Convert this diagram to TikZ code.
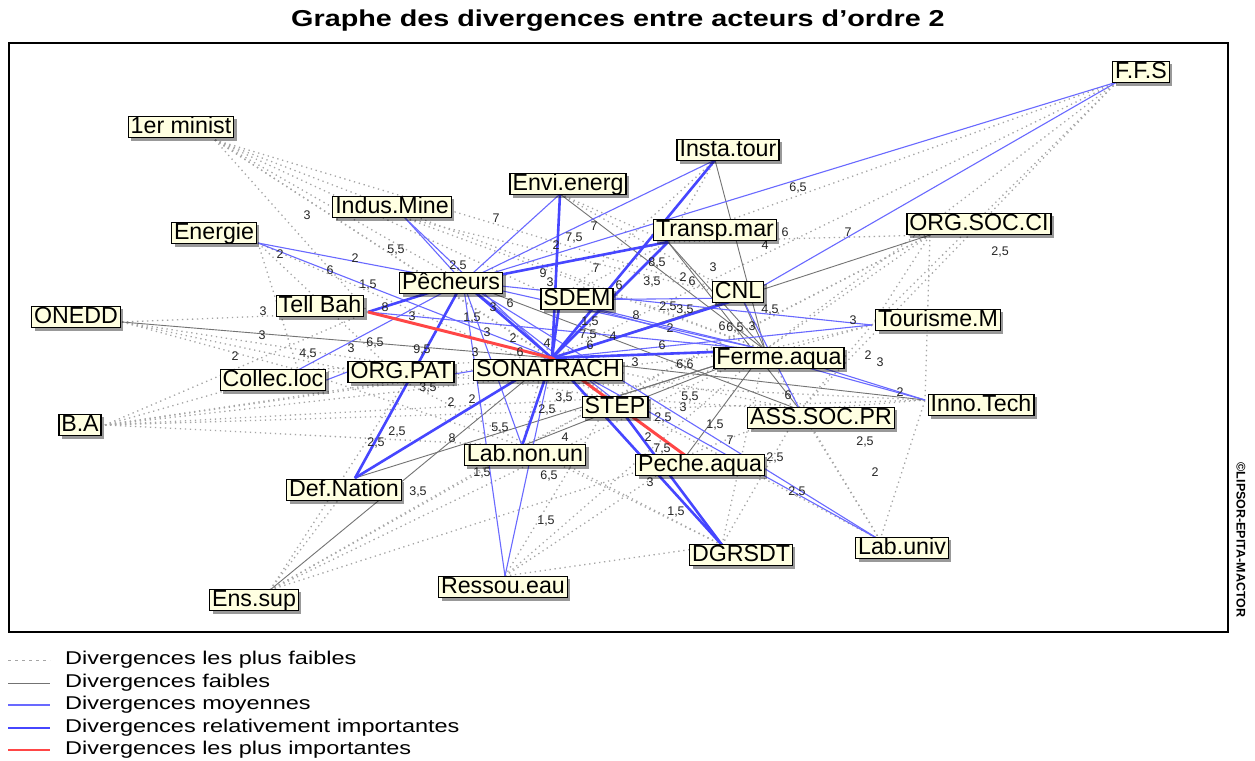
\documentclass[tikz,border=0pt]{standalone}
\usepackage{fontspec}
\setmainfont{Liberation Sans}
\usepackage{graphicx}
\usetikzlibrary{shadows,backgrounds}
\definecolor{nodebg}{RGB}{255,255,225}
\definecolor{midblue}{RGB}{105,105,255}
\definecolor{strongblue}{RGB}{70,70,255}
\definecolor{topred}{RGB}{255,70,70}
\definecolor{dotgray}{RGB}{165,165,165}
\definecolor{weakgray}{RGB}{115,115,115}
\begin{document}
\begin{tikzpicture}[x=1pt,y=-1pt,
  actor/.style={draw=black,line width=1.4pt,fill=nodebg,inner xsep=2.5pt,inner ysep=0.3pt,
    text height=17.2pt,text depth=3.6pt,font=\fontsize{23.2}{25}\selectfont,
    drop shadow={shadow xshift=3pt,shadow yshift=-3pt,fill=black,opacity=0.4}},
  lbl/.style={font=\fontsize{12.5}{13}\selectfont,text=black!85,inner sep=0pt},
  dotl/.style={draw=dotgray,line width=1.3pt,dash pattern=on 1.3pt off 3.7pt},
  weak/.style={draw=weakgray,line width=0.9pt},
  mid/.style={draw=midblue,line width=1.1pt},
  strong/.style={draw=strongblue,line width=2.6pt},
  redline/.style={draw=topred,line width=3pt},
  legtext/.style={anchor=west,inner sep=0pt,font=\fontsize{18.5}{20}\selectfont},
]
\useasboundingbox (0,0) rectangle (1255,760);

% ---------- actors ----------
\node[actor] (ffs)     at (1141,72)  {F.F.S};
\node[actor] (premier) at (181,127)  {1er minist};
\node[actor] (insta)   at (728,150)  {Insta.tour};
\node[actor] (envi)    at (568,184)  {Envi.energ};
\node[actor] (indus)   at (392,207)  {Indus.Mine};
\node[actor] (orgsoc)  at (979,224)  {ORG.SOC.CI};
\node[actor] (energie) at (214,233)  {Energie};
\node[actor] (transp)  at (715,230)  {Transp.mar};
\node[actor] (pech)    at (451,283)  {Pêcheurs};
\node[actor] (sdem)    at (577,299)  {SDEM};
\node[actor] (cnl)     at (738,292)  {CNL};
\node[actor] (tell)    at (320,306)  {Tell Bah};
\node[actor] (onedd)   at (76,317)   {ONEDD};
\node[actor] (tour)    at (938,320)  {Tourisme.M};
\node[actor] (sona)    at (548,370)  {SONATRACH};
\node[actor] (orgpat)  at (401,372)  {ORG.PAT};
\node[actor] (ferme)   at (779,358)  {Ferme.aqua};
\node[actor] (collec)  at (273,380)  {Collec.loc};
\node[actor] (inno)    at (981,405)  {Inno.Tech};
\node[actor] (step)    at (615,407)  {STEP};
\node[actor] (ass)     at (821,418)  {ASS.SOC.PR};
\node[actor] (ba)      at (80,425)   {B.A};
\node[actor] (labnon)  at (525,455)  {Lab.non.un};
\node[actor] (pecheaq) at (700,465)  {Peche.aqua};
\node[actor] (defn)    at (344,490)  {Def.Nation};
\node[actor] (labuniv) at (902,548)  {Lab.univ};
\node[actor] (dgrsdt)  at (741,555)  {DGRSDT};
\node[actor] (ressou)  at (503,587)  {Ressou.eau};
\node[actor] (enssup)  at (254,600)  {Ens.sup};

% ---------- anchor points of the connectors ----------
\coordinate (p-ffs) at (1117,82);
\coordinate (p-premier) at (215,140);
\coordinate (p-insta) at (715,160);
\coordinate (p-envi) at (560,194);
\coordinate (p-indus) at (405,218);
\coordinate (p-orgsoc) at (930,235);
\coordinate (p-energie) at (258,243);
\coordinate (p-transp) at (668,242);
\coordinate (p-pech) at (463,282);
\coordinate (p-sdem) at (560,300);
\coordinate (p-cnl) at (742,298);
\coordinate (p-tell) at (368,312);
\coordinate (p-onedd) at (122,322);
\coordinate (p-tour) at (872,325);
\coordinate (p-sona) at (552,358);
\coordinate (p-orgpat) at (405,382);
\coordinate (p-ferme) at (765,350);
\coordinate (p-collec) at (298,370);
\coordinate (p-inno) at (925,400);
\coordinate (p-step) at (612,398);
\coordinate (p-ass) at (800,410);
\coordinate (p-ba) at (105,425);
\coordinate (p-labnon) at (522,446);
\coordinate (p-pecheaq) at (686,456);
\coordinate (p-defn) at (355,478);
\coordinate (p-labuniv) at (880,540);
\coordinate (p-dgrsdt) at (722,545);
\coordinate (p-ressou) at (505,576);
\coordinate (p-enssup) at (270,590);

\begin{pgfonlayer}{background}
\fill[white] (0,0) rectangle (1255,760);
% weakest
\foreach \a/\b in {premier/tell,premier/pech,premier/sdem,premier/sona,premier/step,premier/ferme,premier/cnl,
  ffs/transp,ffs/ferme,ffs/sona,ffs/ass,ffs/tour,
  orgsoc/ferme,orgsoc/step,orgsoc/transp,orgsoc/labnon,orgsoc/inno,
  ba/tell,ba/collec,ba/orgpat,ba/sona,ba/ferme,ba/step,ba/labnon,ba/inno,
  onedd/tell,onedd/collec,onedd/orgpat,onedd/step,
  energie/orgpat,energie/collec,energie/step,
  indus/ferme,indus/cnl,
  enssup/defn,enssup/orgpat,enssup/labnon,enssup/step,enssup/pecheaq,enssup/ferme,
  ressou/pecheaq,ressou/step,ressou/ferme,ressou/dgrsdt,
  dgrsdt/ferme,dgrsdt/labnon,dgrsdt/step,dgrsdt/ass,dgrsdt/sona,dgrsdt/orgpat,
  labuniv/ass,labuniv/ferme,labuniv/inno,labuniv/step,
  inno/ass,tour/ferme,tour/orgsoc,tour/ass,tour/step,
  ass/pecheaq,ass/step,ass/sona,
  collec/inno,collec/ferme,collec/labnon,
  insta/sdem,insta/transp,envi/transp,envi/cnl,transp/sdem,sdem/labnon}
  \draw[dotl] (p-\a) -- (p-\b);
% weak
\foreach \a/\b in {onedd/sona,insta/ferme,envi/ferme,transp/ferme,orgsoc/sona,defn/ferme,enssup/sona,
  pecheaq/ferme,step/ferme,inno/sona,pech/ass,cnl/ferme,labnon/ferme,transp/ass}
  \draw[weak] (p-\a) -- (p-\b);
% medium
\foreach \a/\b in {ffs/pech,ffs/cnl,insta/pech,envi/pech,indus/pech,indus/sona,energie/pech,energie/sona,
  collec/pech,tour/pech,tour/sona,inno/sdem,ass/cnl,labuniv/sona,labuniv/pech,ressou/pech,ressou/sona,
  labnon/pech,tell/ferme,pech/ferme,pech/step,sdem/cnl,sdem/ferme,orgpat/sona,inno/ferme}
  \draw[mid] (p-\a) -- (p-\b);
\draw[mid] (collec.east) -- (orgpat.west);
% relatively important
\foreach \a/\b in {pech/sona,pech/tell,pech/defn,pech/transp,sdem/sona,envi/sona,insta/sona,transp/sona,
  cnl/sona,ferme/sona,sona/defn,sona/labnon,sona/dgrsdt,step/dgrsdt}
  \draw[strong] (p-\a) -- (p-\b);
% most important
\draw[redline] (p-tell) -- (p-sona);
\draw[redline] (p-sona) -- (p-pecheaq);
% values
\foreach \x/\y/\t [count=\i] in {307/215/3,496/218/7,396/250/{5,5},280/254/2,355/258/2,330/270/6,368/285/{1,5},
  263/311/3,385/307/8,412/316/3,262/335/3,235/356/2,308/354/{4,5},351/348/3,375/343/{6,5},422/350/{9,5},
  458/266/{2,5},556/245/2,574/238/{7,5},594/226/7,596/268/7,543/273/9,550/282/3,619/285/6,657/263/{8,5},
  652/282/{3,5},683/277/2,692/281/6,713/267/3,798/188/{6,5},785/232/6,765/245/4,848/232/7,1000/252/{2,5},
  770/310/{4,5},853/320/3,668/307/{2,5},685/310/{3,5},636/315/8,722/326/6,735/328/{6,5},752/326/3,670/328/2,
  662/345/6,590/322/{1,5},588/335/{7,5},590/345/6,613/336/4,510/303/6,472/318/{1,5},487/332/3,493/307/3,
  513/338/2,547/343/4,475/352/3,520/352/6,635/362/3,685/365/{6,6},868/355/2,880/362/3,900/392/2,451/402/2,
  472/399/2,564/398/{3,5},547/410/{2,5},500/428/{5,5},452/438/8,397/432/{2,5},376/443/{2,5},418/492/{3,5},
  549/476/{6,5},546/521/{1,5},482/473/{1,5},565/437/4,690/397/{5,5},683/407/3,788/395/6,663/418/{2,5},
  715/425/{1,5},730/440/7,865/442/{2,5},875/472/2,775/458/{2,5},797/492/{2,5},648/437/2,662/449/{7,5},
  650/482/3,676/512/{1,5},428/388/{3,5}}
  \node[lbl] (v\i) at (\x,\y) {\t};
\end{pgfonlayer}

% ---------- frame, title, legend ----------
\draw[line width=1.5pt] (9,43) rectangle (1228,632);
\node[font=\bfseries\fontsize{23}{26}\selectfont,inner sep=0pt] (title) at (618,21)
  {\scalebox{1.25}[1]{Graphe des divergences entre acteurs d'ordre 2}};
\node[rotate=-90,font=\bfseries\fontsize{12.5}{13}\selectfont,inner sep=0pt] (copy) at (1241,540)
  {\textcopyright LIPSOR-EPITA-MACTOR};

\coordinate (l1a) at (8,660); \coordinate (l1b) at (50,660);
\coordinate (l2a) at (8,683); \coordinate (l2b) at (50,683);
\coordinate (l3a) at (8,705); \coordinate (l3b) at (50,705);
\coordinate (l4a) at (8,728); \coordinate (l4b) at (50,728);
\coordinate (l5a) at (8,750); \coordinate (l5b) at (50,750);
\draw[dotl,line width=1pt,dash pattern=on 3pt off 4pt] (l1a) -- (l1b);
\draw[weak] (l2a) -- (l2b);
\draw[mid] (l3a) -- (l3b);
\draw[strong,line width=2.2pt] (l4a) -- (l4b);
\draw[redline,line width=2.4pt] (l5a) -- (l5b);
\node[legtext] (t1) at (65,660) {\scalebox{1.27}[1]{Divergences les plus faibles}};
\node[legtext] (t2) at (65,683) {\scalebox{1.27}[1]{Divergences faibles}};
\node[legtext] (t3) at (65,705) {\scalebox{1.27}[1]{Divergences moyennes}};
\node[legtext] (t4) at (65,728) {\scalebox{1.27}[1]{Divergences relativement importantes}};
\node[legtext] (t5) at (65,750) {\scalebox{1.27}[1]{Divergences les plus importantes}};
\end{tikzpicture}
\end{document}
